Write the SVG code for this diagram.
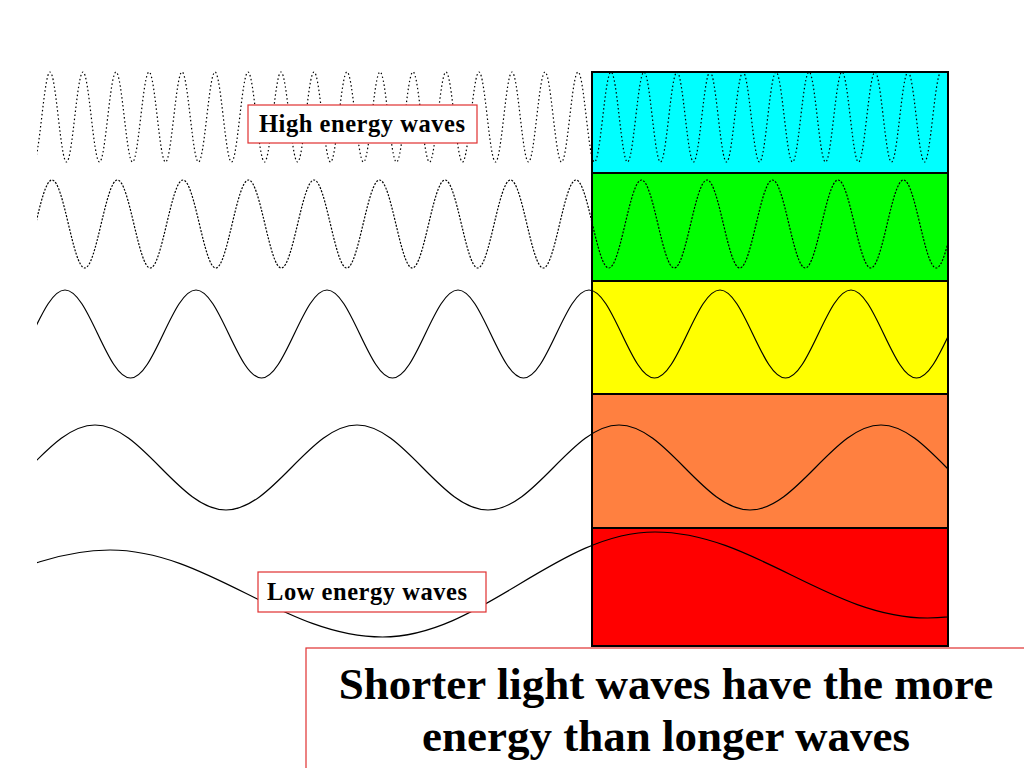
<svg xmlns="http://www.w3.org/2000/svg" width="1024" height="768" viewBox="0 0 1024 768">
<style>
.band{stroke:#000;stroke-width:2}
.w{fill:none;stroke:#000;stroke-width:1.2}
.lbl{fill:#fff;stroke:#e03030;stroke-width:1.2}
.t{font-family:"Liberation Serif",serif;font-weight:bold;fill:#000}
</style>
<defs><clipPath id="c"><rect x="37" y="0" width="911" height="768"/></clipPath></defs>
<rect width="1024" height="768" fill="#fff"/>
<g id="bands">
<rect class="band" x="592" y="72" width="356" height="101" fill="#00ffff"/>
<rect class="band" x="592" y="173" width="356" height="108" fill="#00ff00"/>
<rect class="band" x="592" y="281" width="356" height="113" fill="#ffff00"/>
<rect class="band" x="592" y="394" width="356" height="134" fill="#ff8040"/>
<rect class="band" x="592" y="528" width="356" height="118" fill="#ff0000"/>
</g>
<g id="waves" clip-path="url(#c)">
<path class="w" stroke-dasharray="1.5 2.5" d="M17,72 c5.94,0 10.56,90 16.5,90 s10.56,-90 16.5,-90 s10.56,90 16.5,90 s10.56,-90 16.5,-90 s10.56,90 16.5,90 s10.56,-90 16.5,-90 s10.56,90 16.5,90 s10.56,-90 16.5,-90 s10.56,90 16.5,90 s10.56,-90 16.5,-90 s10.56,90 16.5,90 s10.56,-90 16.5,-90 s10.56,90 16.5,90 s10.56,-90 16.5,-90 s10.56,90 16.5,90 s10.56,-90 16.5,-90 s10.56,90 16.5,90 s10.56,-90 16.5,-90 s10.56,90 16.5,90 s10.56,-90 16.5,-90 s10.56,90 16.5,90 s10.56,-90 16.5,-90 s10.56,90 16.5,90 s10.56,-90 16.5,-90 s10.56,90 16.5,90 s10.56,-90 16.5,-90 s10.56,90 16.5,90 s10.56,-90 16.5,-90 s10.56,90 16.5,90 s10.56,-90 16.5,-90 s10.56,90 16.5,90 s10.56,-90 16.5,-90 s10.56,90 16.5,90 s10.56,-90 16.5,-90 s10.56,90 16.5,90 s10.56,-90 16.5,-90 s10.56,90 16.5,90 s10.56,-90 16.5,-90 s10.56,90 16.5,90 s10.56,-90 16.5,-90 s10.56,90 16.5,90 s10.56,-90 16.5,-90 s10.56,90 16.5,90 s10.56,-90 16.5,-90 s10.56,90 16.5,90 s10.56,-90 16.5,-90 s10.56,90 16.5,90 s10.56,-90 16.5,-90 s10.56,90 16.5,90 s10.56,-90 16.5,-90 s10.56,90 16.5,90 s10.56,-90 16.5,-90 s10.56,90 16.5,90 s10.56,-90 16.5,-90 s10.56,90 16.5,90 s10.56,-90 16.5,-90"/>
<path class="w" stroke-dasharray="2 1.5" d="M-13.5,180 c11.79,0 20.96,88 32.75,88 s20.96,-88 32.75,-88 s20.96,88 32.75,88 s20.96,-88 32.75,-88 s20.96,88 32.75,88 s20.96,-88 32.75,-88 s20.96,88 32.75,88 s20.96,-88 32.75,-88 s20.96,88 32.75,88 s20.96,-88 32.75,-88 s20.96,88 32.75,88 s20.96,-88 32.75,-88 s20.96,88 32.75,88 s20.96,-88 32.75,-88 s20.96,88 32.75,88 s20.96,-88 32.75,-88 s20.96,88 32.75,88 s20.96,-88 32.75,-88 s20.96,88 32.75,88 s20.96,-88 32.75,-88 s20.96,88 32.75,88 s20.96,-88 32.75,-88 s20.96,88 32.75,88 s20.96,-88 32.75,-88 s20.96,88 32.75,88 s20.96,-88 32.75,-88 s20.96,88 32.75,88 s20.96,-88 32.75,-88 s20.96,88 32.75,88 s20.96,-88 32.75,-88"/>
<path class="w" d="M-0.5,378 c23.58,0 41.92,-88 65.5,-88 s41.92,88 65.5,88 s41.92,-88 65.5,-88 s41.92,88 65.5,88 s41.92,-88 65.5,-88 s41.92,88 65.5,88 s41.92,-88 65.5,-88 s41.92,88 65.5,88 s41.92,-88 65.5,-88 s41.92,88 65.5,88 s41.92,-88 65.5,-88 s41.92,88 65.5,88 s41.92,-88 65.5,-88 s41.92,88 65.5,88 s41.92,-88 65.5,-88 s41.92,88 65.5,88"/>
<path class="w" d="M-36,510 c47.16,0 83.84,-85 131,-85 s83.84,85 131,85 s83.84,-85 131,-85 s83.84,85 131,85 s83.84,-85 131,-85 s83.84,85 131,85 s83.84,-85 131,-85 s83.84,85 131,85"/>
<path class="w" d="M-162.5,625 C-64.4,625 12,550 110,550 C208.1,550 284.4,637 382.5,637 C480.6,637 556.9,532 655,532 C753.1,532 829.4,618 927.5,618 C1025.6,618 1101.9,540 1200,540"/>
</g>
<g id="high"><rect class="lbl" x="248" y="105" width="229" height="38"/><text class="t" x="259" y="132" font-size="24.5" textLength="206">High energy waves</text></g>
<g id="low"><rect class="lbl" x="258" y="572" width="228" height="40"/><text class="t" x="267" y="600" font-size="24.5" textLength="200">Low energy waves</text></g>
<g id="caption"><rect class="lbl" x="306" y="648" width="730" height="130"/><text class="t" x="666" y="699" font-size="45" text-anchor="middle">Shorter light waves have the more</text><text class="t" x="666" y="751" font-size="45" text-anchor="middle">energy than longer waves</text></g>
</svg>
